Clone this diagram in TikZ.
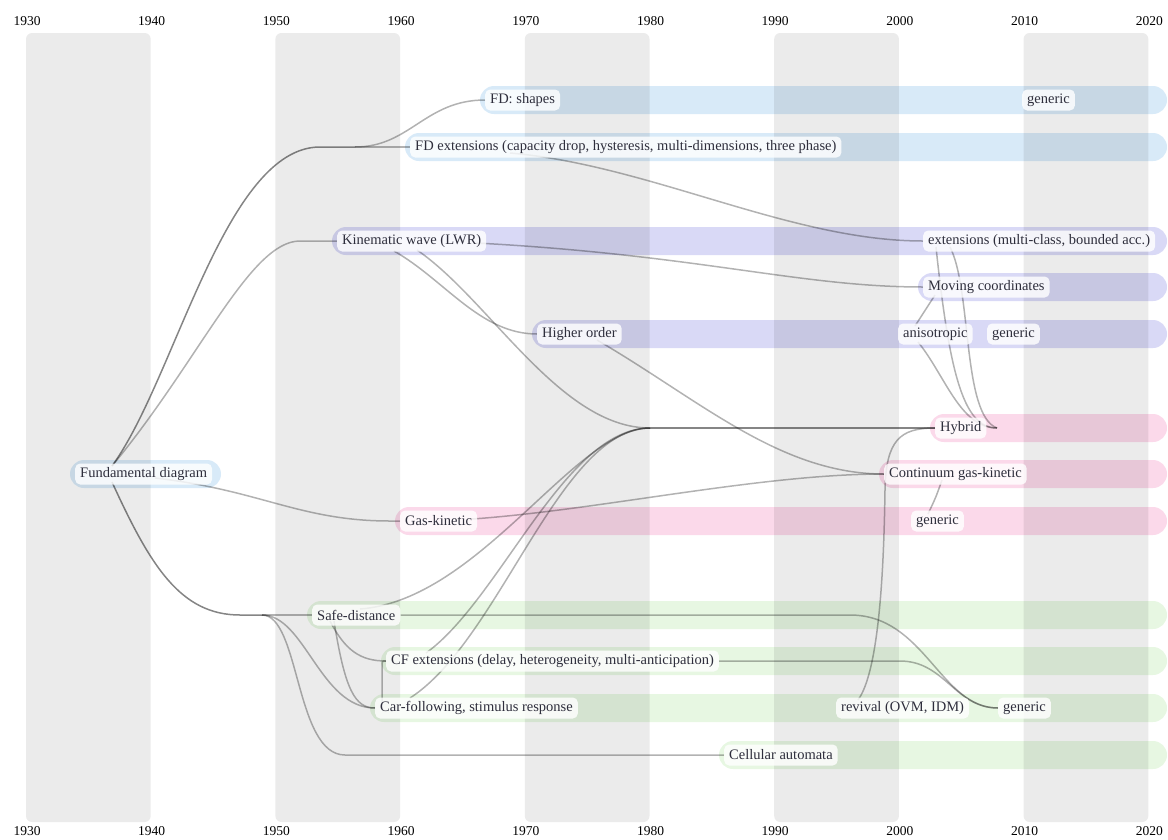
\documentclass[tikz,border=0pt]{standalone}
\usepackage{fontspec}
\setmainfont{Liberation Serif}
\usetikzlibrary{calc}

\definecolor{bblue}{HTML}{D8EAF8}
\definecolor{bviolet}{HTML}{D9D9F6}
\definecolor{bpink}{HTML}{FBD9EA}
\definecolor{bgreen}{HTML}{E7F7E2}
\definecolor{txt}{HTML}{2E2E3C}

\pgfdeclarelayer{bands}
\pgfdeclarelayer{links}
\pgfsetlayers{bands,links,main}

\begin{document}
\begin{tikzpicture}[x=1pt,y=-1pt,
  lbl/.style={anchor=west, fill=white, fill opacity=0.82, text opacity=1,
    rounded corners=5pt, inner xsep=5pt, inner ysep=0pt, minimum height=21pt,
    text=txt, font=\fontsize{14.5}{16}\selectfont},
  link/.style={draw=black, draw opacity=0.3, line width=1.5pt},
  trunk/.style={link, draw opacity=0.48},
  yr/.style={font=\fontsize{13.5}{15}\selectfont, text=black, inner sep=0pt}]

\useasboundingbox (0,0) rectangle (1168,839);

% decade labels, top and bottom
\foreach \a in {1930,1940,...,2020}{
  \node[yr] at ({27+(\a-1930)*12.47},21) {\a};
  \node[yr] at ({27+(\a-1930)*12.47},831) {\a};
}

% topic nodes
\node[lbl] (fdshapes) at (485,100) {FD: shapes};
\node[lbl] (gena) at (1022,100) {generic};
\node[lbl] (fdext) at (410,147) {FD extensions (capacity drop, hysteresis, multi-dimensions, three phase)};
\node[lbl] (kw) at (337,241) {Kinematic wave (LWR)};
\node[lbl] (extmc) at (923,241) {extensions (multi-class, bounded acc.)};
\node[lbl] (movc) at (923,287) {Moving coordinates};
\node[lbl] (higher) at (537,334) {Higher order};
\node[lbl] (aniso) at (898,334) {anisotropic};
\node[lbl] (genb) at (987,334) {generic};
\node[lbl] (hybrid) at (935,428) {Hybrid};
\node[lbl] (fdiag) at (75,474) {Fundamental diagram};
\node[lbl] (cgk) at (884,474) {Continuum gas-kinetic};
\node[lbl] (gaskin) at (400,521) {Gas-kinetic};
\node[lbl] (genc) at (911,521) {generic};
\node[lbl] (safe) at (312,615) {Safe-distance};
\node[lbl] (cfext) at (386,661) {CF extensions (delay, heterogeneity, multi-anticipation)};
\node[lbl] (carf) at (375,708) {Car-following, stimulus response};
\node[lbl] (revival) at (836,708) {revival (OVM, IDM)};
\node[lbl] (gend) at (998,708) {generic};
\node[lbl] (cell) at (724,755) {Cellular automata};

% branching points of shared strands
\coordinate (jup) at (355,147);
\coordinate (jlow) at (262,615);
\coordinate (jhyb) at (650,428);
\coordinate (hybtail) at (997,428);

% coloured lanes, then the decade shading over them
\begin{pgfonlayer}{bands}
  \foreach \xs/\yc/\c in {480/100/bblue, 405/147/bblue,
      332/241/bviolet, 918/287/bviolet, 532/334/bviolet,
      930/428/bpink, 879/474/bpink, 395/521/bpink,
      307/615/bgreen, 381/661/bgreen, 370/708/bgreen, 719/755/bgreen}
    \fill[\c, rounded corners=14pt] (\xs,\yc-14) rectangle (1167,\yc+14);
  \fill[bblue, rounded corners=14pt] (70,460) rectangle (221,488);
  \foreach \a in {1930,1950,...,2010}
    \fill[black, fill opacity=0.078, rounded corners=6pt]
      ({26+(\a-1930)*12.47},33) rectangle ({26+(\a-1920)*12.47},822);
\end{pgfonlayer}

% lineage links
\begin{pgfonlayer}{links}
  % from the fundamental diagram
  \draw[trunk] ($(fdiag.west)+(37,-8)$) .. controls (175,380) and (225,147) .. (320,147) -- (jup);
  \draw[link] (jup) -- (fdext.west);
  \draw[link] (jup) .. controls (410,147) and (425,100) .. (fdshapes.west);
  \draw[link] ($(fdiag.west)+(37,-8)$) .. controls (200,360) and (250,241) .. (300,241) -- (kw.west);
  \draw[link] ($(fdiag.west)+(80,4)$) .. controls (260,490) and (300,521) .. (390,521) -- (gaskin.west);
  \draw[trunk] ($(fdiag.west)+(37,8)$) .. controls (150,565) and (180,615) .. (240,615) -- (jlow);
  \draw[link] (jlow) -- (safe.west);
  \draw[link] (jlow) .. controls (305,615) and (320,708) .. (carf.west);
  \draw[link] (jlow) .. controls (300,615) and (295,755) .. (345,755) -- (cell.west);
  % car-following family
  \draw[link] ($(safe.west)+(18,6)$) .. controls (345,650) and (360,661) .. (cfext.west);
  \draw[link] ($(safe.west)+(22,6)$) .. controls (345,690) and (355,708) .. (carf.west);
  \draw[link] ($(safe.west)+(48,-6)$) .. controls (480,600) and (575,428) .. (jhyb);
  \draw[link] (safe.east) -- (850,615) .. controls (925,615) and (940,708) .. (gend.west);
  \draw[link] ($(cfext.west)+(40,-8)$) .. controls (500,600) and (565,428) .. (jhyb);
  \draw[link] (cfext.east) -- (900,661) .. controls (945,661) and (955,708) .. (gend.west);
  \draw[link] ($(carf.west)+(35,-10)$) .. controls (500,640) and (560,428) .. (jhyb);
  \draw[link] ($(carf.west)+(7,-4)$) -- ($(cfext.west)+(-4,6)$) .. controls ($(cfext.west)+(-4,0)$) .. (cfext.west);
  \draw[link] ($(revival.west)+(22,-8)$) .. controls (880,670) and (884,560) .. (885,490)
     .. controls (886,440) and (900,428) .. (hybrid.west);
  % kinematic wave family
  \draw[link] ($(kw.west)+(57,10)$) .. controls (445,280) and (480,334) .. (higher.west);
  \draw[link] ($(kw.west)+(80,9)$) .. controls (490,300) and (560,428) .. (jhyb);
  \draw[trunk] (jhyb) -- (hybrid.west);
  \draw[link] ($(kw.east)+(-10,2)$) .. controls (700,255) and (800,287) .. (movc.west);
  \draw[link] ($(fdext.west)+(100,6)$) .. controls (650,165) and (790,241) .. (extmc.west);
  \draw[link] ($(higher.west)+(60,6)$) .. controls (700,400) and (780,474) .. (cgk.west);
  \draw[link] ($(gaskin.east)+(-5,-2)$) .. controls (600,510) and (760,474) .. (cgk.west);
  \draw[link] ($(cgk.west)+(58,6)$) .. controls (936,497) .. ($(genc.west)+(17,-7)$);
  % into the hybrid lane
  \draw[link] ($(extmc.west)+(13,6)$) .. controls (950,380) and (965,428) .. (hybtail);
  \draw[link] ($(extmc.west)+(27,6)$) .. controls (972,290) and (962,415) .. (hybtail);
  \draw[link] ($(movc.west)+(12,8)$) .. controls (925,310) .. ($(aniso.west)+(17,-8)$);
  \draw[link] ($(aniso.west)+(20,8)$) .. controls (945,375) and (960,428) .. (hybtail);
\end{pgfonlayer}
\end{tikzpicture}
\end{document}
